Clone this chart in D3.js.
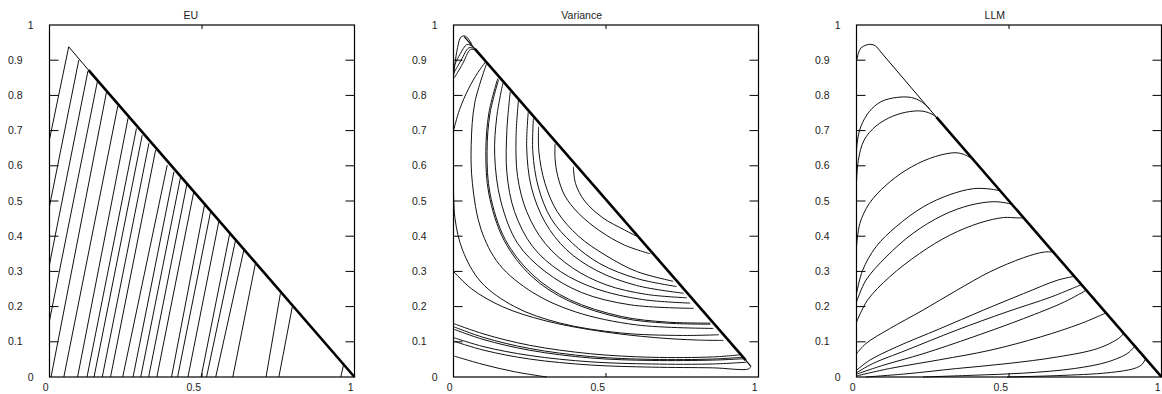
<!DOCTYPE html>
<html>
<head>
<meta charset="utf-8">
<script src="https://cdnjs.cloudflare.com/ajax/libs/d3/7.8.5/d3.min.js"></script>
<style>
  html, body { margin: 0; padding: 0; background: #fff; }
  svg { display: block; font-family: "Liberation Sans", Arial, sans-serif; }
</style>
</head>
<body>
<svg id="chart" width="1162" height="394"></svg>
<script>
// panel titles and ticks
const titles = ['EU', 'Variance', 'LLM']
const xTicks = [0, 0.5, 1]
const yTicks = [0, 0.1, 0.2, 0.3, 0.4, 0.5, 0.6, 0.7, 0.8, 0.9, 1]

// EU: straight trajectories, start point -> point where they hit the edge x+y=1
const euStarts = [
  [0, 0.675], [0, 0.485], [0, 0.32], [0, 0.16], [0.005, 0], [0.047, 0],
  [0.092, 0], [0.123, 0], [0.146, 0], [0.173, 0], [0.2, 0], [0.24, 0],
  [0.274, 0], [0.299, 0], [0.325, 0], [0.352, 0], [0.4, 0], [0.42, 0],
  [0.454, 0], [0.497, 0], [0.515, 0], [0.545, 0], [0.601, 0], [0.71, 0],
  [0.752, 0], [0.955, 0]
]
const euHits = [
  [0.063, 0.938], [0.096, 0.9], [0.126, 0.869], [0.158, 0.844], [0.187, 0.81], [0.224, 0.77],
  [0.258, 0.737], [0.285, 0.706], [0.304, 0.687], [0.326, 0.664], [0.348, 0.645], [0.386, 0.602],
  [0.408, 0.583], [0.43, 0.569], [0.451, 0.55], [0.473, 0.526], [0.508, 0.488], [0.528, 0.469],
  [0.555, 0.441], [0.591, 0.408], [0.61, 0.389], [0.637, 0.36], [0.675, 0.322], [0.757, 0.237],
  [0.796, 0.199], [0.965, 0.038]
]
const euEdgeThin = [[0.063, 0.938], [0.128, 0.872]]
const euEdgeThick = [[0.128, 0.872], [1, 0]]

// Variance: short curves in the top-left corner
const varCorner = [
  [[0, 0.853], [0.012, 0.93], [0.025, 0.966], [0.04, 0.968], [0.06, 0.945]],
  [[0, 0.88], [0.02, 0.915], [0.045, 0.945], [0.06, 0.94]],
  [[0, 0.862], [0.025, 0.9], [0.05, 0.935], [0.066, 0.934]],
  [[0.003, 0.85], [0.03, 0.89], [0.055, 0.93], [0.07, 0.93]]
]
// Variance: arcs from the upper edge round to the lower edge
const varArcs = [
  [[0.393, 0.597], [0.4, 0.55], [0.43, 0.5], [0.49, 0.452], [0.56, 0.418], [0.6, 0.4]],
  [[0.333, 0.662], [0.333, 0.62], [0.342, 0.57], [0.365, 0.515], [0.41, 0.465], [0.48, 0.415], [0.56, 0.375], [0.645, 0.35]],
  [[0.279, 0.711], [0.28, 0.64], [0.3, 0.55], [0.34, 0.47], [0.41, 0.4], [0.5, 0.345], [0.6, 0.3], [0.72, 0.272]],
  [[0.262, 0.735], [0.26, 0.64], [0.278, 0.54], [0.32, 0.45], [0.39, 0.38], [0.48, 0.322], [0.6, 0.28], [0.732, 0.257]],
  [[0.245, 0.752], [0.24, 0.65], [0.255, 0.54], [0.3, 0.44], [0.37, 0.362], [0.47, 0.302], [0.6, 0.26], [0.754, 0.238]],
  [[0.213, 0.787], [0.205, 0.68], [0.21, 0.57], [0.24, 0.47], [0.3, 0.38], [0.39, 0.31], [0.5, 0.262], [0.63, 0.235], [0.765, 0.225]],
  [[0.186, 0.81], [0.175, 0.7], [0.175, 0.58], [0.2, 0.47], [0.26, 0.37], [0.35, 0.3], [0.47, 0.25], [0.62, 0.22], [0.776, 0.21]],
  [[0.162, 0.835], [0.142, 0.74], [0.135, 0.63], [0.155, 0.5], [0.21, 0.38], [0.3, 0.3], [0.42, 0.24], [0.58, 0.205], [0.787, 0.195]],
  [[0.148, 0.845], [0.12, 0.75], [0.11, 0.64], [0.12, 0.52], [0.17, 0.39], [0.26, 0.29], [0.38, 0.22], [0.55, 0.172], [0.7, 0.156], [0.842, 0.153]],
  [[0.145, 0.848], [0.116, 0.75], [0.106, 0.64], [0.116, 0.52], [0.166, 0.388], [0.256, 0.286], [0.378, 0.216], [0.55, 0.168], [0.7, 0.153], [0.842, 0.15]],
  [[0.109, 0.891], [0.07, 0.78], [0.058, 0.66], [0.062, 0.55], [0.09, 0.42], [0.15, 0.32], [0.26, 0.24], [0.4, 0.185], [0.6, 0.148], [0.852, 0.138]],
  [[0, 0.7], [0.02, 0.76], [0.05, 0.82], [0.08, 0.865], [0.105, 0.895]],
  [[0, 0.55], [0.005, 0.45], [0.03, 0.36], [0.09, 0.27], [0.2, 0.2], [0.35, 0.153], [0.55, 0.125], [0.75, 0.118], [0.87, 0.12]],
  [[0, 0.3], [0.06, 0.25], [0.16, 0.2], [0.3, 0.16], [0.48, 0.13], [0.66, 0.112], [0.8, 0.105], [0.885, 0.104]]
]
// Variance: flat curves near the bottom
const varBottom = [
  [[0, 0.152], [0.1, 0.122], [0.25, 0.09], [0.45, 0.066], [0.65, 0.056], [0.85, 0.057], [0.94, 0.063]],
  [[0, 0.143], [0.1, 0.112], [0.25, 0.081], [0.45, 0.058], [0.65, 0.05], [0.85, 0.051], [0.948, 0.056]],
  [[0, 0.136], [0.1, 0.106], [0.25, 0.076], [0.45, 0.054], [0.65, 0.047], [0.85, 0.048], [0.955, 0.052]],
  [[0, 0.112], [0.1, 0.086], [0.25, 0.061], [0.45, 0.043], [0.65, 0.037], [0.85, 0.037], [0.96, 0.042]],
  [[0, 0.102], [0.1, 0.076], [0.25, 0.051], [0.45, 0.034], [0.65, 0.028], [0.85, 0.026], [0.968, 0.023], [0.975, 0.03]],
  [[0, 0.06], [0.1, 0.035], [0.2, 0.015], [0.306, 0]]
]
const varEdgeThin = [[0.035, 0.967], [0.07, 0.932]]
const varEdgeThick = [[0.07, 0.932], [0.958, 0.048]]
const varEdgeTail = [[0.958, 0.048], [0.975, 0.03]]

// LLM: curves rising from the left side and joining the edge x+y=1
const llmCurves = [
  [[0, 0.896], [0.006, 0.919], [0.014, 0.934], [0.031, 0.943], [0.047, 0.945], [0.062, 0.941], [0.077, 0.926]],
  [[0, 0.621], [0.002, 0.664], [0.014, 0.711], [0.042, 0.754], [0.08, 0.782], [0.13, 0.794], [0.18, 0.794], [0.213, 0.782], [0.24, 0.762]],
  [[0, 0.55], [0.006, 0.616], [0.025, 0.673], [0.064, 0.713], [0.119, 0.741], [0.174, 0.754], [0.218, 0.755], [0.251, 0.745], [0.268, 0.732]],
  [[0, 0.37], [0.011, 0.436], [0.042, 0.493], [0.097, 0.545], [0.163, 0.588], [0.24, 0.621], [0.317, 0.637], [0.35, 0.633], [0.381, 0.619]],
  [[0, 0.237], [0.02, 0.303], [0.064, 0.37], [0.13, 0.427], [0.218, 0.483], [0.306, 0.518], [0.383, 0.535], [0.438, 0.534], [0.471, 0.529]],
  [[0, 0.213], [0.031, 0.275], [0.097, 0.341], [0.185, 0.408], [0.284, 0.46], [0.372, 0.488], [0.449, 0.498], [0.493, 0.494], [0.51, 0.49]],
  [[0, 0.156], [0.036, 0.218], [0.108, 0.284], [0.207, 0.351], [0.306, 0.403], [0.405, 0.438], [0.482, 0.453], [0.526, 0.452], [0.548, 0.452]],
  [[0, 0.066], [0.031, 0.095], [0.108, 0.137], [0.218, 0.19], [0.328, 0.246], [0.438, 0.299], [0.548, 0.339], [0.615, 0.355], [0.645, 0.355]],
  [[0, 0.019], [0.042, 0.047], [0.13, 0.085], [0.273, 0.137], [0.416, 0.19], [0.548, 0.237], [0.659, 0.275], [0.714, 0.286]],
  [[0, 0.012], [0.053, 0.038], [0.163, 0.076], [0.328, 0.133], [0.493, 0.185], [0.637, 0.227], [0.736, 0.262]],
  [[0, 0.008], [0.086, 0.033], [0.218, 0.066], [0.383, 0.114], [0.548, 0.166], [0.681, 0.213], [0.752, 0.246]],
  [[0, 0.003], [0.108, 0.024], [0.273, 0.049], [0.438, 0.076], [0.604, 0.114], [0.736, 0.152], [0.818, 0.182]],
  [[0.031, 0], [0.163, 0.009], [0.328, 0.024], [0.493, 0.038], [0.659, 0.057], [0.791, 0.081], [0.86, 0.11], [0.876, 0.124]],
  [[0.218, 0], [0.383, 0.005], [0.548, 0.011], [0.714, 0.024], [0.824, 0.043], [0.89, 0.068], [0.912, 0.088]],
  [[0.493, 0], [0.659, 0.004], [0.824, 0.012], [0.91, 0.024], [0.935, 0.035], [0.948, 0.052]]
]
const llmEdgeThin = [[0.077, 0.926], [0.262, 0.738]]
const llmEdgeThick = [[0.262, 0.738], [1, 0]]

// layout
const plotTop = 25, plotBottom = 377, panelWidth = 305
const panelLefts = [49.5, 453.5, 856.5]
const fontSize = 10.5

const svg = d3.select('#chart')

function drawPanel(index, thinPaths, linear) {
  const left = panelLefts[index]
  const x = d3.scaleLinear().domain([0, 1]).range([left, left + panelWidth])
  const y = d3.scaleLinear().domain([0, 1]).range([plotBottom, plotTop])
  const g = svg.append('g')

  const makeLine = d3.line()
    .x(d => x(d[0]))
    .y(d => y(d[1]))
    .curve(linear ? d3.curveLinear : d3.curveCatmullRom.alpha(0.5))

  g.selectAll('path.traj')
    .data(thinPaths)
    .join('path')
    .attr('class', 'traj')
    .attr('d', makeLine)
    .attr('fill', 'none')
    .attr('stroke', '#111')
    .attr('stroke-width', 1)

  // frame
  g.append('rect')
    .attr('x', x(0)).attr('y', y(1))
    .attr('width', x(1) - x(0)).attr('height', y(0) - y(1))
    .attr('fill', 'none').attr('stroke', '#000').attr('stroke-width', 1.2)

  // y ticks, inward on both sides
  const inner = yTicks.filter(t => t > 0 && t < 1)
  g.selectAll('line.yl').data(inner).join('line')
    .attr('class', 'yl')
    .attr('x1', x(0)).attr('x2', x(0) + 9)
    .attr('y1', d => y(d)).attr('y2', d => y(d))
    .attr('stroke', '#000')
  g.selectAll('line.yr').data(inner).join('line')
    .attr('class', 'yr')
    .attr('x1', x(1)).attr('x2', x(1) - 9)
    .attr('y1', d => y(d)).attr('y2', d => y(d))
    .attr('stroke', '#000')
  g.selectAll('text.yt').data(yTicks).join('text')
    .attr('class', 'yt')
    .attr('x', d => x(0) - (d === 0 || d === 1 ? 16 : 27))
    .attr('y', d => y(d))
    .attr('dy', '0.35em')
    .attr('text-anchor', 'end')
    .attr('font-size', fontSize)
    .attr('fill', '#222')
    .text(d => d)

  // x ticks at top and bottom
  const midX = xTicks.filter(t => t > 0 && t < 1)
  g.selectAll('line.xtop').data(midX).join('line')
    .attr('class', 'xtop')
    .attr('x1', d => x(d)).attr('x2', d => x(d))
    .attr('y1', y(1)).attr('y2', y(1) + 4)
    .attr('stroke', '#000')
  g.selectAll('line.xbot').data(midX).join('line')
    .attr('class', 'xbot')
    .attr('x1', d => x(d)).attr('x2', d => x(d))
    .attr('y1', y(0)).attr('y2', y(0) - 4)
    .attr('stroke', '#000')
  g.selectAll('text.xt').data(xTicks).join('text')
    .attr('class', 'xt')
    .attr('x', d => x(d) - 1)
    .attr('y', 391)
    .attr('text-anchor', 'end')
    .attr('font-size', fontSize)
    .attr('fill', '#222')
    .text(d => d)

  g.append('text')
    .attr('x', (x(0) + x(1)) / 2 - 4)
    .attr('y', 18.5)
    .attr('text-anchor', 'end')
    .attr('font-size', fontSize)
    .attr('fill', '#222')
    .text(titles[index])

  return {g, makeLine}
}

function drawEdge(panel, points, width) {
  panel.g.append('path')
    .datum(points)
    .attr('d', panel.makeLine)
    .attr('fill', 'none')
    .attr('stroke', '#000')
    .attr('stroke-width', width)
}

const euPaths = euStarts.map((s, i) => [s, euHits[i]])
const eu = drawPanel(0, euPaths, true)
drawEdge(eu, euEdgeThin, 1)
drawEdge(eu, euEdgeThick, 2.6)

const variance = drawPanel(1, varCorner.concat(varArcs, varBottom), false)
drawEdge(variance, varEdgeThin, 1.2)
drawEdge(variance, varEdgeThick, 2.6)
drawEdge(variance, varEdgeTail, 1.2)

const llm = drawPanel(2, llmCurves, false)
drawEdge(llm, llmEdgeThin, 1)
drawEdge(llm, llmEdgeThick, 2.6)
</script>
</body>
</html>
